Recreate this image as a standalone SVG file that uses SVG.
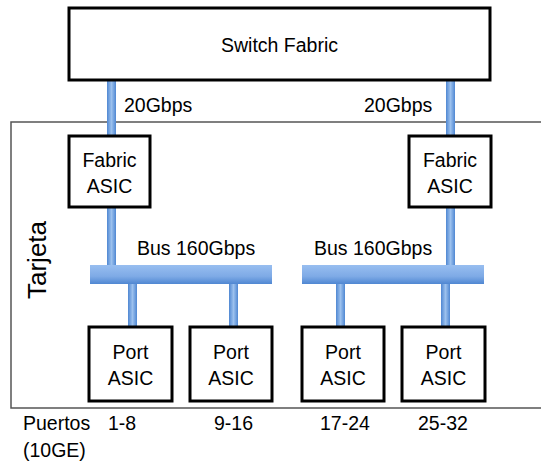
<svg xmlns="http://www.w3.org/2000/svg" width="541" height="463" viewBox="0 0 541 463">
<style>
.box{fill:#fff;stroke:#000;stroke-width:3}
.t{font-family:"Liberation Sans",Arial,sans-serif;font-size:19.5px;fill:#000}
.c{text-anchor:middle}
</style>
<defs>
<linearGradient id="gv" x1="0" y1="0" x2="1" y2="0">
<stop offset="0" stop-color="#4f87d2"/><stop offset="0.5" stop-color="#9cc1ee"/><stop offset="1" stop-color="#4f87d2"/>
</linearGradient>
<linearGradient id="gh" x1="0" y1="0" x2="0" y2="1">
<stop offset="0" stop-color="#98bef0"/><stop offset="0.6" stop-color="#7eaae6"/><stop offset="1" stop-color="#4f87d2"/>
</linearGradient>
</defs>
<rect id="tarjeta" x="11" y="122" width="540" height="286" fill="none" stroke="#555" stroke-width="1.5"/>
<text class="t" transform="translate(46,260) rotate(-90)" text-anchor="middle" style="font-size:26px">Tarjeta</text>
<g id="connectors">
<rect x="107" y="80" width="9" height="57" fill="url(#gv)"/>
<rect x="446" y="80" width="9" height="57" fill="url(#gv)"/>
<rect x="107" y="207" width="9" height="59" fill="url(#gv)"/>
<rect x="446" y="207" width="9" height="59" fill="url(#gv)"/>
<rect x="128" y="283" width="9" height="45" fill="url(#gv)"/>
<rect x="229" y="283" width="9" height="45" fill="url(#gv)"/>
<rect x="336" y="283" width="9" height="45" fill="url(#gv)"/>
<rect x="441" y="283" width="9" height="45" fill="url(#gv)"/>
<rect id="bus1" x="90" y="265" width="182" height="19" fill="url(#gh)"/>
<rect id="bus2" x="302" y="265" width="182" height="19" fill="url(#gh)"/>
<text class="t" x="124" y="112">20Gbps</text>
<text class="t" x="364" y="112">20Gbps</text>
<text class="t" x="137" y="255">Bus 160Gbps</text>
<text class="t" x="314" y="255">Bus 160Gbps</text>
</g>
<g id="switch-fabric">
<rect class="box" x="69" y="8" width="421" height="72"/>
<text class="t c" x="279.5" y="52">Switch Fabric</text>
</g>
<g id="fabric-asic-1">
<rect class="box" x="69" y="136" width="81" height="71"/>
<text class="t c" x="109.5" y="167">Fabric</text>
<text class="t c" x="109.5" y="193">ASIC</text>
</g>
<g id="fabric-asic-2">
<rect class="box" x="409" y="136" width="82" height="71"/>
<text class="t c" x="450" y="167">Fabric</text>
<text class="t c" x="450" y="193">ASIC</text>
</g>
<g id="port-asic-1">
<rect class="box" x="89" y="327" width="83" height="74"/>
<text class="t c" x="130.5" y="359">Port</text>
<text class="t c" x="130.5" y="385">ASIC</text>
</g>
<g id="port-asic-2">
<rect class="box" x="190" y="327" width="82" height="74"/>
<text class="t c" x="231" y="359">Port</text>
<text class="t c" x="231" y="385">ASIC</text>
</g>
<g id="port-asic-3">
<rect class="box" x="302" y="327" width="82" height="74"/>
<text class="t c" x="343" y="359">Port</text>
<text class="t c" x="343" y="385">ASIC</text>
</g>
<g id="port-asic-4">
<rect class="box" x="402" y="327" width="83" height="74"/>
<text class="t c" x="443.5" y="359">Port</text>
<text class="t c" x="443.5" y="385">ASIC</text>
</g>
<g id="labels">
<text class="t" x="23" y="430">Puertos</text>
<text class="t" x="23" y="457">(10GE)</text>
<text class="t" x="108" y="430">1-8</text>
<text class="t" x="214" y="430">9-16</text>
<text class="t" x="320" y="430">17-24</text>
<text class="t" x="418" y="430">25-32</text>
</g>
</svg>
